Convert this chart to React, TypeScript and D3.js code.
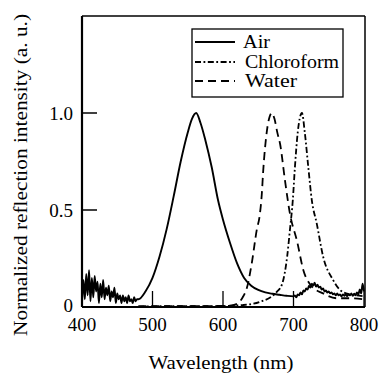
import React from "react";
import * as d3 from "d3";

// ---- data ----
const airWavelengths = [
  400,402,404,406,408,410,412,414,416,418,420,422,424,426,428,430,432,434,436,438,
  440,442,444,446,448,450,452,454,456,458,460,462,464,466,468,470,472,474,476,478,
  480,490,500,510,520,530,540,550,556,562,568,575,584,593,600,610,620,630,640,650,660,670,680,690,
  700,702,704,706,708,710,712,714,716,718,720,722,724,726,728,730,732,734,736,738,
  740,742,744,746,748,750,752,754,756,758,760,762,764,766,768,770,772,774,776,778,
  780,782,784,786,788,790,792,794,796,798,800,
];
const airValues = [
  0.02,0.14,0.04,0.17,0.06,0.19,0.03,0.15,0.05,0.16,0.08,0.13,0.02,0.12,0.05,0.14,0.04,0.10,0.06,0.11,
  0.03,0.08,0.05,0.10,0.02,0.07,0.04,0.06,0.02,0.06,0.03,0.05,0.02,0.06,0.03,0.04,0.02,0.05,0.03,0.04,
  0.04,0.08,0.15,0.26,0.40,0.57,0.75,0.90,0.97,1.0,0.95,0.86,0.72,0.55,0.45,0.33,0.225,0.15,0.11,0.088,0.075,0.068,0.063,0.058,
  0.055,0.06,0.05,0.065,0.06,0.075,0.065,0.085,0.08,0.095,0.09,0.11,0.10,0.12,0.11,0.125,0.105,0.115,0.10,0.105,
  0.09,0.095,0.08,0.085,0.075,0.08,0.07,0.075,0.065,0.07,0.06,0.07,0.06,0.065,0.055,0.065,0.058,0.066,0.056,0.065,
  0.06,0.07,0.058,0.068,0.06,0.075,0.065,0.09,0.07,0.12,0.08,
];

const waterWavelengths = [480,520,560,600,612,619,628,634,641,648,652,655,657,662,666,669,673,677,681,688,695,705,714,725,742,761,780,800];
const waterValues =      [0.003,0.005,0.004,0.006,0.008,0.015,0.05,0.10,0.23,0.40,0.47,0.58,0.70,0.90,0.98,1.0,0.97,0.90,0.84,0.65,0.48,0.34,0.19,0.11,0.07,0.045,0.045,0.04];

const chloroWavelengths = [480,520,560,600,628,652,676,684,691,695,699,702,706,712,716,721,726,733,742,756,766,780,790,800];
const chloroValues =      [0.003,0.004,0.005,0.005,0.01,0.026,0.077,0.12,0.26,0.40,0.55,0.72,0.90,1.0,0.90,0.72,0.55,0.43,0.26,0.14,0.088,0.065,0.06,0.055];

const xTicks = [400, 500, 600, 700, 800];
const yTicks = [0, 0.5, 1.0];
const yTickLabels = ["0", "0.5", "1.0"];
const legendLabels = ["Air", "Chloroform", "Water"];

const W = 383, H = 375;
const FONT = '"Liberation Serif", "DejaVu Serif", serif';

export default function App() {
  const x = d3.scaleLinear().domain([400, 800]).range([82, 364]);
  const y = d3.scaleLinear().domain([0, 1.5]).range([307, 16]);

  const toPts = (ws: number[], vs: number[]) => ws.map((w, i) => [w, vs[i]] as [number, number]);
  const line = d3.line<[number, number]>().x(d => x(d[0])).y(d => y(d[1])).curve(d3.curveMonotoneX);

  const series = [
    { pts: toPts(airWavelengths, airValues), dash: "none", label: legendLabels[0] },
    { pts: toPts(chloroWavelengths, chloroValues), dash: "6,2.5,1.8,2.5", label: legendLabels[1] },
    { pts: toPts(waterWavelengths, waterValues), dash: "8,5", label: legendLabels[2] },
  ];
  const legendTextLen = [27, 94, 52];

  const left = x(400), right = x(800) + 1, top = y(1.5), bottom = y(0);

  return (
    <div style={{ position: "absolute", left: 0, top: 0, width: W, height: H }}>
      <svg width={W} height={H} style={{ display: "block", background: "#fff" }} fontFamily={FONT}>
        <rect x={0} y={0} width={W} height={H} fill="#fff" />
        {series.map((s, i) => (
          <path key={i} d={line(s.pts) || ""} fill="none" stroke="#000" strokeWidth={i === 0 ? 1.9 : 1.8}
            strokeDasharray={s.dash === "none" ? undefined : s.dash} />
        ))}
        <line x1={left} y1={bottom} x2={right} y2={bottom} stroke="#000" strokeWidth={2.2} />
        <line x1={left} y1={top} x2={left} y2={bottom} stroke="#000" strokeWidth={2.2} />
        <line x1={left} y1={top} x2={right} y2={top} stroke="#000" strokeWidth={1.5} />
        <line x1={right} y1={top} x2={right} y2={bottom} stroke="#000" strokeWidth={1.5} />
        {xTicks.map(t => (
          <g key={t}>
            <line x1={x(t)} x2={x(t)} y1={bottom} y2={bottom - 16} stroke="#000" strokeWidth={1.3} />
            <text x={x(t)} y={331} textAnchor="middle" fontSize={19}>{t}</text>
          </g>
        ))}
        {yTicks.map((t, i) => (
          <g key={t}>
            <line x1={left} x2={left + 15} y1={y(t)} y2={y(t)} stroke="#000" strokeWidth={1.5} />
            <text x={73} y={y(t) - (t === 0 ? 2 : 0)} dy="0.35em" textAnchor="end" fontSize={19}>{yTickLabels[i]}</text>
          </g>
        ))}
        <text x={221} y={369} textAnchor="middle" fontSize={19} textLength={145} lengthAdjust="spacingAndGlyphs">Wavelength (nm)</text>
        <text transform="translate(27,175) rotate(-90)" textAnchor="middle" fontSize={19}
          textLength={322} lengthAdjust="spacingAndGlyphs">
          Normalized reflection intensity (a. u.)
        </text>
        <rect x={192} y={29} width={151} height={68} fill="#fff" stroke="#000" strokeWidth={1.3} />
        {series.map((s, i) => {
          const ly = [42, 62, 81][i];
          const ty = [48, 68, 87][i];
          return (
            <g key={i}>
              <line x1={195} x2={235} y1={ly} y2={ly} stroke="#000" strokeWidth={1.8}
                strokeDasharray={s.dash === "none" ? undefined : s.dash} />
              <text x={i === 0 ? 243 : 245} y={ty} fontSize={19} textLength={legendTextLen[i]}
                lengthAdjust="spacingAndGlyphs">{s.label}</text>
            </g>
          );
        })}
      </svg>
    </div>
  );
}
